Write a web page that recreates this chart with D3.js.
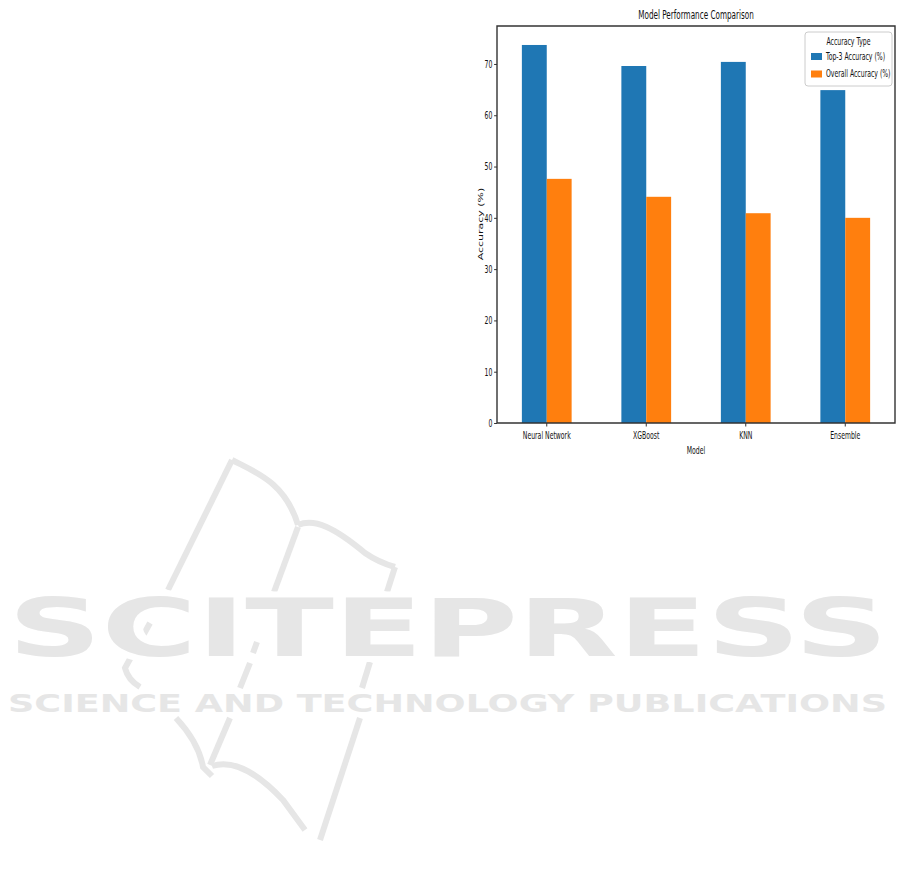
<!DOCTYPE html>
<html>
<head>
<meta charset="utf-8">
<script src="https://cdn.jsdelivr.net/npm/d3@7"></script>
<style>
  html, body { margin: 0; padding: 0; background: #fff; }
  svg { display: block; }
  text { font-family: "DejaVu Sans", sans-serif; }
</style>
</head>
<body>
<div id="chart"></div>
<script>
// ---- data ----
const models = ["Neural Network", "XGBoost", "KNN", "Ensemble"];
const seriesNames = ["Top-3 Accuracy (%)", "Overall Accuracy (%)"];
const top3Accuracy = [73.7, 69.6, 70.4, 64.9];
const overallAccuracy = [47.6, 44.1, 40.9, 40.0];
const yTicks = [0, 10, 20, 30, 40, 50, 60, 70];
const colors = ["#1f77b4", "#ff7f0e"];

const W = 901, H = 887;
const sx = 0.58; // horizontal squeeze of the original figure
const fs = 10.6;  // base font size
const txt = "#111";

const svg = d3.select("#chart").append("svg")
  .attr("width", W).attr("height", H);

// ---- watermark (decorative, behind everything) ----
const wm = svg.append("g").attr("class", "watermark");
const wmColor = "#e6e6e6";
const bookPaths = [
  "M232,460 L168,590",
  "M150,623 L125,668 Q128,680 140,687",
  "M232,460 C255,472 285,482 298,525",
  "M298,525 C315,518 335,528 365,553 C378,562 388,565 395,567",
  "M395,567 L387,592",
  "M370,662 L362,688",
  "M360,718 L320,840",
  "M298,527 L274,592",
  "M257,642 L253,653",
  "M250,663 L240,688",
  "M230,718 L210,765",
  "M176,718 C190,733 200,750 203,767 L212,776",
  "M212,766 C230,760 253,768 283,800 L305,830"
];
wm.selectAll("path").data(bookPaths).join("path")
  .attr("d", d => d)
  .attr("fill", "none")
  .attr("stroke", wmColor)
  .attr("stroke-width", 6)
  .attr("stroke-linecap", "butt");

wm.append("text")
  .attr("x", 8).attr("y", 656)
  .attr("textLength", 880).attr("lengthAdjust", "spacingAndGlyphs")
  .attr("font-size", 80).attr("font-weight", "bold")
  .attr("fill", wmColor).attr("stroke", "#fff").attr("stroke-width", 12)
  .attr("paint-order", "stroke")
  .text("SCITEPRESS");
wm.append("text")
  .attr("x", 8).attr("y", 712)
  .attr("textLength", 879).attr("lengthAdjust", "spacingAndGlyphs")
  .attr("font-size", 25).attr("font-weight", "bold")
  .attr("fill", wmColor).attr("stroke", "#fff").attr("stroke-width", 8)
  .attr("paint-order", "stroke")
  .text("SCIENCE AND TECHNOLOGY PUBLICATIONS");

// ---- chart (drawn in unsqueezed coordinates, then squeezed horizontally) ----
const g = svg.append("g").attr("transform", `scale(${sx},1)`);

const plotLeft = 497 / sx, plotRight = 895 / sx, plotTop = 26, plotBottom = 423;

const x0 = d3.scaleBand().domain(models).range([plotLeft, plotRight]).padding(0);
const x1 = d3.scaleBand().domain(seriesNames)
  .range([x0.bandwidth() * 0.25, x0.bandwidth() * 0.75]).padding(0);
const y = d3.scaleLinear().domain([0, 77.4]).range([plotBottom, plotTop]);

const seriesData = [top3Accuracy, overallAccuracy];

// bars
seriesNames.forEach((s, si) => {
  g.append("g").selectAll("rect")
    .data(models.map((m, i) => ({ m, v: seriesData[si][i] })))
    .join("rect")
    .attr("x", d => x0(d.m) + x1(s))
    .attr("y", d => y(d.v))
    .attr("width", x1.bandwidth())
    .attr("height", d => y(0) - y(d.v))
    .attr("fill", colors[si]);
});

// frame
g.append("rect")
  .attr("x", plotLeft).attr("y", plotTop)
  .attr("width", plotRight - plotLeft).attr("height", plotBottom - plotTop)
  .attr("fill", "none").attr("stroke", "#333").attr("stroke-width", 1.4)
  .attr("vector-effect", "non-scaling-stroke");

// axes
const yAxis = g.append("g").attr("transform", `translate(${plotLeft},0)`)
  .call(d3.axisLeft(y).tickValues(yTicks).tickSize(5).tickPadding(3).tickFormat(d3.format("d")));
const xAxis = g.append("g").attr("transform", `translate(0,${plotBottom})`)
  .call(d3.axisBottom(x0).tickSize(3.5).tickPadding(5));

[yAxis, xAxis].forEach(ax => {
  ax.select(".domain").remove();
  ax.selectAll("line").attr("stroke", "#333").attr("vector-effect", "non-scaling-stroke");
  ax.selectAll("text").attr("font-size", fs).attr("fill", txt)
    .attr("font-family", "DejaVu Sans, sans-serif");
});

// axis labels
g.append("text")
  .attr("x", (plotLeft + plotRight) / 2).attr("y", 454)
  .attr("text-anchor", "middle").attr("font-size", fs).attr("fill", txt)
  .text("Model");
g.append("text")
  .attr("transform", `translate(${483 / sx},${224}) rotate(-90)`)
  .attr("text-anchor", "middle").attr("font-size", fs + 0.4).attr("fill", txt)
  .text("Accuracy (%)");

// title
g.append("text")
  .attr("x", (plotLeft + plotRight) / 2).attr("y", 19)
  .attr("text-anchor", "middle").attr("font-size", 12.5).attr("fill", txt)
  .text("Model Performance Comparison");

// legend
const lg = g.append("g");
lg.append("rect")
  .attr("x", 805 / sx).attr("y", 32)
  .attr("width", (892 - 805) / sx).attr("height", 54)
  .attr("rx", 3 / sx).attr("ry", 3)
  .attr("fill", "#fff").attr("fill-opacity", 0.8)
  .attr("stroke", "#ccc").attr("stroke-width", 1)
  .attr("vector-effect", "non-scaling-stroke");
lg.append("text")
  .attr("x", 848.5 / sx).attr("y", 45)
  .attr("text-anchor", "middle").attr("font-size", fs).attr("fill", txt)
  .text("Accuracy Type");
seriesNames.forEach((s, i) => {
  const ry = 53 + i * 17.5;
  lg.append("rect")
    .attr("x", 811 / sx).attr("y", ry)
    .attr("width", 11 / sx).attr("height", 7)
    .attr("fill", colors[i]);
  lg.append("text")
    .attr("x", 826 / sx).attr("y", ry + 7)
    .attr("font-size", fs).attr("fill", txt)
    .text(s);
});
</script>
</body>
</html>
